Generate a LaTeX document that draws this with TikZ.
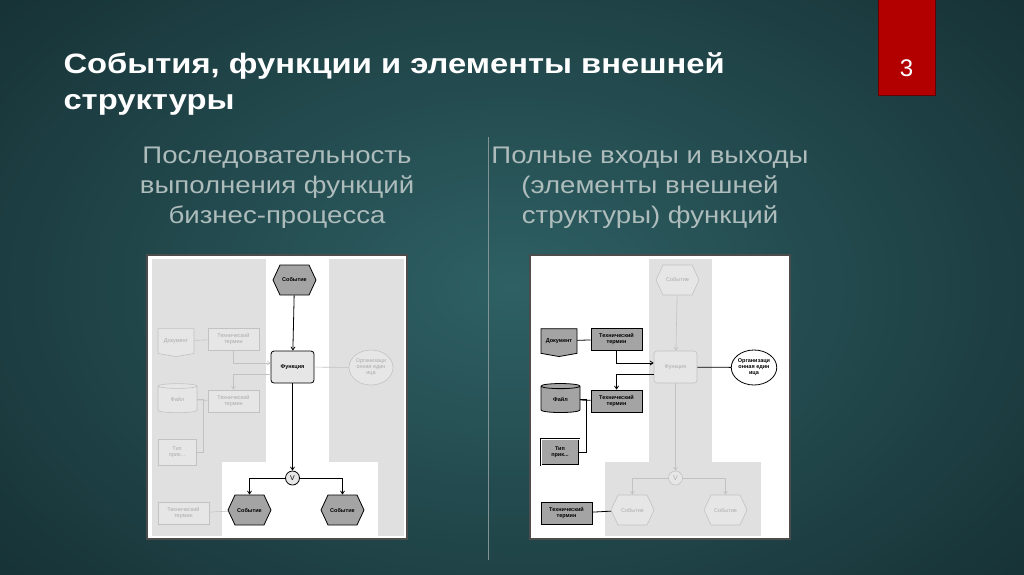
\documentclass[tikz,border=0pt]{standalone}
\usepackage{fontspec}
\setmainfont{Liberation Sans}
\newfontfamily\titlefont[FakeStretch=1.17]{Liberation Sans}
\newfontfamily\subfont[FakeStretch=1.15]{Liberation Sans}
\usetikzlibrary{shapes.symbols,shapes.geometric,calc,arrows.meta}
\definecolor{bgA}{HTML}{2E6064}
\definecolor{bgB}{HTML}{173337}
\definecolor{sub}{HTML}{AEBCBC}
\definecolor{act}{HTML}{A4A4A4}
\definecolor{pale}{HTML}{E6E6E6}
\definecolor{paled}{HTML}{C2C2C2}
\definecolor{palet}{HTML}{ABABAB}
\definecolor{reg}{HTML}{E0E0E0}
\tikzset{
 dfont/.style={font=\fontsize{5.5}{6}\selectfont\bfseries, align=center, inner sep=0pt},
 on/.style={dfont, fill=act, draw=black, line width=0.8pt, text=black},
 onw/.style={dfont, fill=white, draw=black, line width=0.8pt, text=black},
 off/.style={dfont, fill=pale, draw=paled, line width=0.6pt, text=palet, font=\fontsize{5.5}{6}\selectfont},
 evshape/.style={signal, signal to=east and west, signal pointer angle=130, minimum width=43pt, minimum height=30pt},
 evon/.style={evshape,on}, evoff/.style={evshape,off},
 fnon/.style={rectangle, rounded corners=3pt, minimum width=43pt, minimum height=32pt, on, fill=pale},
 fnoff/.style={rectangle, rounded corners=3pt, minimum width=43pt, minimum height=32pt, off},
 vcon/.style={circle, minimum size=14pt, on, fill=pale, font=\fontsize{7}{7}\selectfont},
 vcoff/.style={circle, minimum size=14pt, off, font=\fontsize{7}{7}\selectfont},
 docon/.style={signal, signal to=south, signal pointer angle=160, minimum width=36pt, minimum height=27pt, on},
 docoff/.style={signal, signal to=south, signal pointer angle=160, minimum width=36pt, minimum height=27pt, off},
 tton/.style={rectangle, minimum width=51pt, minimum height=22pt, on},
 ttoff/.style={rectangle, minimum width=51pt, minimum height=22pt, off},
 orgon/.style={ellipse, minimum width=44pt, minimum height=35pt, onw},
 orgoff/.style={ellipse, minimum width=44pt, minimum height=35pt, off},
 cylon/.style={cylinder, shape border rotate=90, aspect=0.35, minimum width=39pt, minimum height=29pt, on},
 cyloff/.style={cylinder, shape border rotate=90, aspect=0.35, minimum width=39pt, minimum height=29pt, off},
 typon/.style={rectangle, minimum width=38pt, minimum height=26pt, on, double, double distance=1pt},
 typoff/.style={rectangle, minimum width=38pt, minimum height=26pt, off},
 lnon/.style={draw=black, line width=0.8pt, -{Straight Barb[length=3pt,width=4pt]}},
 lnoff/.style={draw=paled, line width=0.6pt, -{Straight Barb[length=3pt,width=4pt]}},
 lnnon/.style={draw=black, line width=0.8pt},
 lnnoff/.style={draw=paled, line width=0.6pt},
 subt/.style={text=sub, font=\subfont\fontsize{24}{30}\selectfont, align=center},
}
\newcommand\drawdiag[6]{%
\begin{scope}[xshift=#2]
\draw[fill=white, draw=black!70, line width=1.5pt] (147,255) rectangle (407,539);
\fill[#5] (152,259) rectangle (404,536);
\fill[#6] (266,259) rectangle (329,462);
\fill[#6] (222,462) rectangle (378,536);
\node[ev#3] (#1e1) at (294.5,280) {Событие};
\node[fn#3] (#1f) at (292.5,367) {Функция};
\node[doc#4] (#1d) at (176,341) {Документ};
\node[tt#4] (#1t1) at (233.5,339) {Технический\\термин};
\node[org#4] (#1o) at (371,367.5) {Организаци\\онная един\\ица};
\node[cyl#4] (#1fl) at (177.5,399.5) {Файл};
\node[tt#4] (#1t2) at (233.5,401) {Технический\\термин};
\node[typ#4] (#1tp) at (177,452) {Тип\\прик...};
\node[vc#3] (#1v) at (292.5,478) {V};
\node[ev#3] (#1e2) at (249.5,510) {Событие};
\node[ev#3] (#1e3) at (342.5,510) {Событие};
\node[tt#4] (#1t3) at (183.5,513.5) {Технический\\термин};
\draw[ln#3] (#1e1) -- (#1f);
\draw[ln#4] (#1t1.south) |- ($(#1f.west)+(0,-4)$);
\draw[ln#4] ($(#1f.west)+(0,7)$) -| (#1t2.north);
\draw[lnn#4] (#1d) -- (#1t1);
\draw[lnn#4] (#1fl) -- (#1t2);
\draw[lnn#4] (#1fl.east) -- ++(6,0) |- (#1tp.east);
\draw[lnn#4] (#1f) -- (#1o);
\draw[ln#3] (#1f) -- (#1v);
\draw[ln#3] (#1v) -| (#1e2.north);
\draw[ln#3] (#1v) -| (#1e3.north);
\draw[lnn#4] (#1t3) -- (#1e2);
\end{scope}}
\begin{document}
\begin{tikzpicture}[x=1pt,y=-1pt]
\useasboundingbox (0,0) rectangle (1024,574);
\shade[inner color=bgA, outer color=bgB] (-150,-150) rectangle (1174,724);
\fill[red!70!black, draw=red!40!black] (878,-1) rectangle (935,95);
\node[text=white, font=\fontsize{24}{24}\selectfont] (num) at (906.5,68) {3};
\node[anchor=west, text=white, font=\titlefont\fontsize{28}{36}\selectfont\bfseries, align=left] (title) at (60,84)
 {События, функции и элементы внешней\\структуры};
\node[subt] (s1) at (277,188) {Последовательность\\выполнения функций\\бизнес-процесса};
\node[subt] (s2) at (650,188) {Полные входы и выходы\\(элементы внешней\\структуры) функций};
\coordinate (dv1) at (488,137); \coordinate (dv2) at (488,560);
\draw[draw=sub!70!bgB, line width=1pt] (dv1) -- (dv2);
\drawdiag{L}{0}{on}{off}{reg}{white}
\drawdiag{R}{383}{off}{on}{white}{reg}
\end{tikzpicture}
\end{document}
